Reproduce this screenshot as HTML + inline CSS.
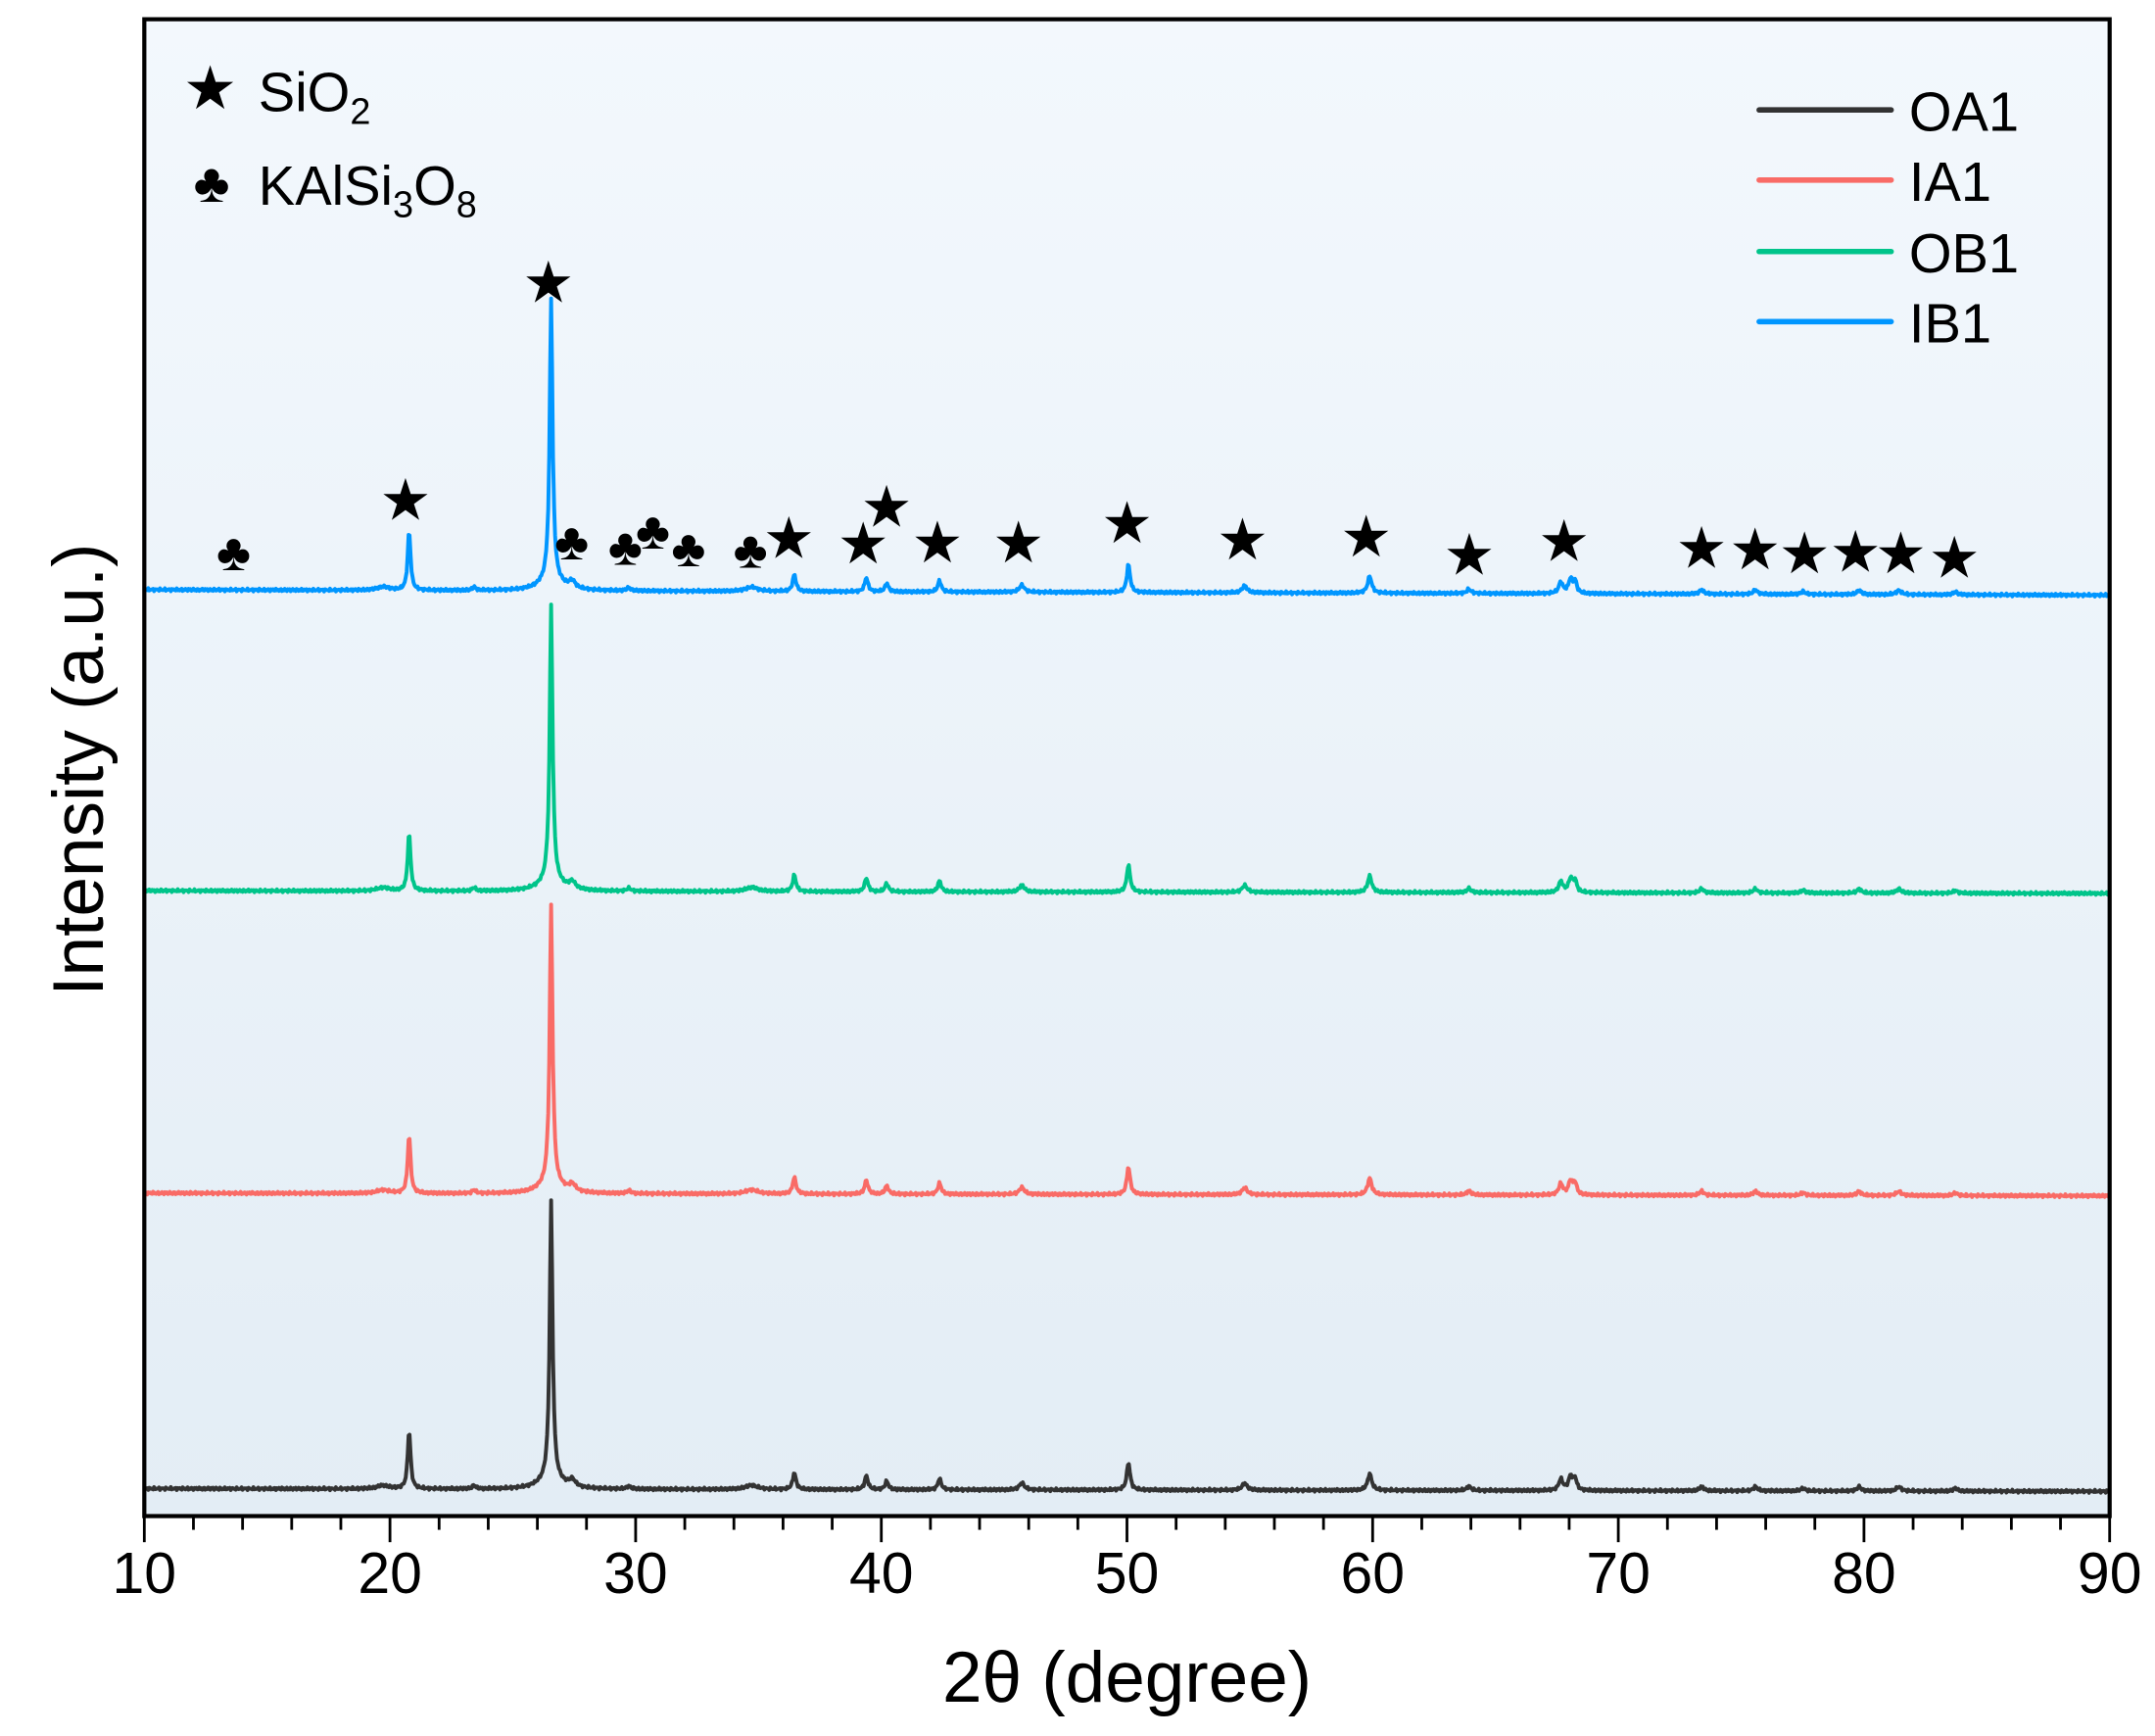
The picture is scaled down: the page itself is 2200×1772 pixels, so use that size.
<!DOCTYPE html>
<html><head><meta charset="utf-8"><style>
html,body{margin:0;padding:0;background:#fff;}
svg{display:block;}
text{font-family:"Liberation Sans",Arial,sans-serif;fill:#000;}
</style></head><body>
<svg id="s" width="2200" height="1772" viewBox="0 0 1568 1263" preserveAspectRatio="none" xmlns="http://www.w3.org/2000/svg">
<defs><linearGradient id="bg" x1="0" y1="0" x2="0" y2="1"><stop offset="0" stop-color="#f3f8fd"/><stop offset="1" stop-color="#e3edf5"/></linearGradient></defs>
<rect x="105" y="14" width="1430" height="1089" fill="url(#bg)"/>
<g id="curves" fill="none" stroke-width="2.8" stroke-linejoin="round"></g>
<rect x="105" y="14" width="1430" height="1089" fill="none" stroke="#000" stroke-width="3"/>
<g id="ticks" stroke="#000" stroke-width="2"></g>
<g font-size="42" text-anchor="middle">
<text x="105" y="1159">10</text><text x="283.75" y="1159">20</text><text x="462.5" y="1159">30</text><text x="641.25" y="1159">40</text><text x="820" y="1159">50</text><text x="998.75" y="1159">60</text><text x="1177.5" y="1159">70</text><text x="1356.25" y="1159">80</text><text x="1535" y="1159">90</text>
</g>
<text x="820" y="1238" font-size="52" text-anchor="middle">2θ (degree)</text>
<text transform="translate(75,560) rotate(-90)" font-size="52" text-anchor="middle">Intensity (a.u.)</text>
<g stroke-width="4" stroke-linecap="round">
<line x1="1280" y1="80" x2="1376" y2="80" stroke="#333"/>
<line x1="1280" y1="131" x2="1376" y2="131" stroke="#f96b66"/>
<line x1="1280" y1="183" x2="1376" y2="183" stroke="#00c48a"/>
<line x1="1280" y1="234" x2="1376" y2="234" stroke="#0096ff"/>
</g>
<g font-size="40">
<text x="1389" y="95">OA1</text><text x="1389" y="146">IA1</text><text x="1389" y="198">OB1</text><text x="1389" y="249">IB1</text>
</g>
<text x="153" y="79" font-size="44" text-anchor="middle">★</text>
<text x="188" y="81" font-size="40">SiO<tspan font-size="27" dy="9">2</tspan></text>
<text x="154" y="147" font-size="40" text-anchor="middle">♣</text>
<text x="188" y="149" font-size="40">KAlSi<tspan font-size="27" dy="9">3</tspan><tspan dy="-9">O</tspan><tspan font-size="27" dy="9">8</tspan></text>
<g id="marks" text-anchor="middle"></g>
</svg>
<script>
var NS="http://www.w3.org/2000/svg";
function X(t){return 105+(t-10)*17.875;}
var peaks=[[26.56,1,0.07],[20.78,0.21,0.07],[50.06,0.1,0.08],[36.46,0.06,0.08],[39.39,0.05,0.08],[40.22,0.03,0.08],[42.37,0.04,0.08],[45.72,0.025,0.12],[54.79,0.025,0.12],[59.88,0.06,0.1],[63.92,0.015,0.1],[67.66,0.04,0.1],[68.06,0.05,0.1],[68.24,0.04,0.08],[73.39,0.015,0.1],[75.58,0.015,0.1],[77.52,0.01,0.1],[79.8,0.015,0.1],[81.42,0.015,0.12],[83.72,0.01,0.1],[27.42,0.025,0.15],[29.72,0.01,0.1],[34.72,0.015,0.3],[23.42,0.012,0.08],[19.72,0.012,0.3],[26.56,0.04,0.5]];
var series=[[1083,1085,201,"#333"],[868,870,202,"#f96b66"],[648,650,200,"#00c48a"],[429,433,205,"#0096ff"]];
var g=document.getElementById("curves");
series.forEach(function(s,k){
 var d="";
 for(var t=10;t<=90.001;t+=0.04){
  var y=0;
  for(var i=0;i<peaks.length;i++){var p=peaks[i];var u=(t-p[0])/p[2];y+=p[1]/(1+u*u);}
  var n=Math.sin(t*91.7+k*3.1)*0.6+Math.sin(t*37.3+k)*0.5;
  var b=s[0]+(s[1]-s[0])*(t-10)/80;
  var yy=b-y*s[2]+n;
  d+=(d?"L":"M")+X(t).toFixed(1)+","+yy.toFixed(1);
 }
 var pth=document.createElementNS(NS,"path");pth.setAttribute("d",d);pth.setAttribute("stroke",s[3]);g.appendChild(pth);
});
var tk=document.getElementById("ticks");
for(var v=10;v<=90;v+=2){var l=document.createElementNS(NS,"line");var x=X(v);l.setAttribute("x1",x);l.setAttribute("x2",x);l.setAttribute("y1",1103);l.setAttribute("y2",v%10==0?1122:1113);tk.appendChild(l);}
var mk=[["♣",170,415],["★",295,378],["★",399,220],["♣",416,407],["♣",455,411],["♣",475,399],["♣",501,412],["♣",546,413],["★",574,406],["★",628,410],["★",645,383],["★",682,409],["★",741,409],["★",820,395],["★",904,407],["★",994,405],["★",1069,418],["★",1138,408],["★",1238,413],["★",1277,414],["★",1313,417],["★",1350,416],["★",1383,417],["★",1422,420]];
var mg=document.getElementById("marks");
mk.forEach(function(m){var t=document.createElementNS(NS,"text");t.setAttribute("x",m[1]);t.setAttribute("y",m[2]);t.setAttribute("font-size",m[0]=="★"?"42":"38");t.textContent=m[0];mg.appendChild(t);});
</script>
</body></html>
